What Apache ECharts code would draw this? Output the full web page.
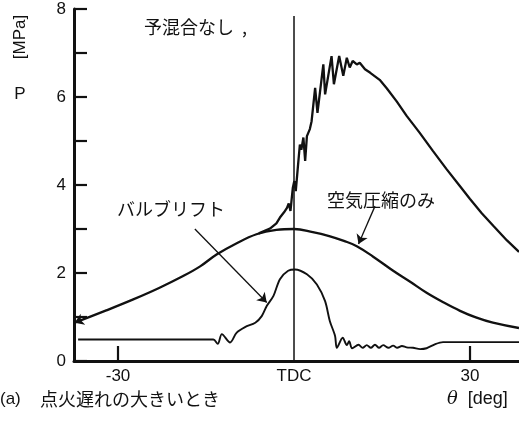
<!DOCTYPE html>
<html>
<head>
<meta charset="utf-8">
<style>
html,body{margin:0;padding:0;background:#fff;}
#chart{width:519px;height:421px;}
</style>
<script src="https://cdn.jsdelivr.net/npm/echarts@6/dist/echarts.min.js"></script>
</head>
<body>
<div id="chart"></div>
<script>
// ---- data (theta in deg, P in MPa) ----
var combTheta = [-6.0, -4.1, -3.0, -2.4, -1.7, -1.2, -0.9, -0.6, -0.2, 0.05, 0.3, 0.75, 1.0, 1.25, 1.6, 1.9, 2.2, 2.7, 3.0, 3.6, 4.0, 5.0, 5.3, 6.4, 6.8, 7.7, 8.4, 9.0, 9.5, 10.0, 10.7, 11.2, 12.1, 13.0, 14.6, 15.8, 17.5, 19.2, 21.4, 23.7, 26.0, 28.3, 30.0, 32.0, 34.0, 36.3, 38.35];
var combP     = [2.90, 3.01, 3.13, 3.26, 3.38, 3.48, 3.58, 3.41, 3.94, 4.09, 3.86, 4.55, 4.92, 4.80, 5.08, 4.55, 5.11, 5.27, 5.45, 6.21, 5.64, 6.74, 6.06, 6.93, 6.29, 6.93, 6.48, 6.89, 6.67, 6.82, 6.74, 6.78, 6.63, 6.55, 6.39, 6.20, 5.90, 5.57, 5.19, 4.77, 4.36, 3.97, 3.68, 3.36, 3.07, 2.74, 2.48];

var compTheta = [-37.4, -32.0, -27.4, -23.0, -18.9, -16.0, -13.2, -10.0, -6.4, -3.0, 0.0, 3.2, 6.0, 8.5, 10.7, 13.5, 16.9, 19.8, 22.6, 25.5, 28.3, 31.0, 33.9, 38.35];
var compP     = [0.87, 1.15, 1.40, 1.66, 1.93, 2.15, 2.42, 2.66, 2.88, 2.98, 3.00, 2.93, 2.84, 2.73, 2.61, 2.37, 2.05, 1.80, 1.55, 1.33, 1.14, 0.99, 0.87, 0.75];

var valveTheta = [-36.8, -13.75, -13.0, -12.3, -10.9, -9.8, -8.35, -6.6, -5.5, -4.65, -3.5, -2.4, -1.0, 0.17, 2.2, 3.9, 5.3, 6.1, 7.0, 7.3, 8.3, 9.0, 9.4, 9.9, 11.0, 11.7, 12.4, 13.1, 13.8, 14.5, 15.2, 16.1, 16.9, 17.6, 18.4, 19.2, 20.3, 21.5, 22.6, 24.0, 25.4, 38.35];
var valveP     = [0.49, 0.49, 0.39, 0.61, 0.42, 0.64, 0.77, 0.87, 1.02, 1.25, 1.48, 1.86, 2.05, 2.08, 1.97, 1.74, 1.36, 0.91, 0.57, 0.30, 0.53, 0.36, 0.45, 0.29, 0.37, 0.30, 0.36, 0.30, 0.37, 0.30, 0.36, 0.30, 0.35, 0.30, 0.34, 0.31, 0.30, 0.27, 0.29, 0.38, 0.43, 0.43];

var tdcLine = [[0, 0], [0, 7.84]];
var xTickValues = [-30, 0, 30];
var xTickMarks = [-30, 30];
var yMin = 0, yMax = 8, yStep = 1;
var xMin = -37.5, xMax = 38.35;

function pairs(xs, ys) { return xs.map(function (x, i) { return [x, ys[i]]; }); }

var INK = '#111';
var numFont = '"Liberation Sans", Arial, sans-serif';
var jpFont = '"Noto Sans CJK JP", sans-serif';

var chart = echarts.init(document.getElementById('chart'));
chart.setOption({
  animation: false,
  backgroundColor: '#fff',
  grid: {left: 74, right: 0, top: 9, bottom: 60},
  xAxis: {
    type: 'value', min: xMin, max: xMax,
    axisLine: {show: true, onZero: false, lineStyle: {color: INK, width: 3}},
    axisTick: {show: false},
    axisLabel: {show: true, customValues: xTickValues, margin: 7, color: INK, fontSize: 17, fontFamily: numFont,
      formatter: function (v) { return v === 0 ? 'TDC' : String(v); }},
    splitLine: {show: false}
  },
  yAxis: {
    type: 'value', min: yMin, max: yMax, interval: yStep,
    axisLine: {show: true, onZero: false, lineStyle: {color: INK, width: 3}},
    axisTick: {show: true, inside: true, length: 13, lineStyle: {color: INK, width: 2.2}},
    axisLabel: {show: true, margin: 8, color: INK, fontSize: 17, fontFamily: numFont,
      formatter: function (v) { return (v % 2 === 0) ? String(v) : ''; }},
    splitLine: {show: false}
  },
  series: [
    {
      type: 'custom', clip: false,
      data: xTickMarks.map(function (v) { return [v, yMin]; }),
      renderItem: function (params, api) {
        var p = api.coord([api.value(0), api.value(1)]);
        return {type: 'line', shape: {x1: p[0], y1: p[1], x2: p[0], y2: p[1] - 15}, style: {stroke: INK, lineWidth: 2.2}};
      }
    },
    {
      name: 'TDC', type: 'line', data: tdcLine, symbol: 'none',
      lineStyle: {color: INK, width: 1.5}, silent: true
    },
    {
      name: '空気圧縮のみ', type: 'line', data: pairs(compTheta, compP), symbol: 'none', smooth: 0.4,
      lineStyle: {color: INK, width: 2.3}, silent: true,
      markLine: {
        silent: true, animation: false, symbol: ['none', 'arrow'], symbolSize: 9,
        label: {show: false}, lineStyle: {color: INK, width: 1.3, type: 'solid'},
        data: [
          [{coord: [13.8, 3.52]}, {coord: [11.0, 2.66]}],
          [{coord: [-36.3, 0.93]}, {coord: [-37.4, 0.87]}]
        ]
      }
    },
    {
      name: '燃焼', type: 'line', data: pairs(combTheta, combP), symbol: 'none', smooth: false,
      lineStyle: {color: INK, width: 2.3}, silent: true
    },
    {
      name: 'バルブリフト', type: 'line', data: pairs(valveTheta, valveP), symbol: 'none', smooth: 0.3,
      lineStyle: {color: INK, width: 1.9}, silent: true,
      markLine: {
        silent: true, animation: false, symbol: ['none', 'arrow'], symbolSize: 9,
        label: {show: false}, lineStyle: {color: INK, width: 1.3, type: 'solid'},
        data: [
          [{coord: [-16.9, 3.0]}, {coord: [-4.65, 1.33]}]
        ]
      }
    }
  ],
  graphic: [
    {type: 'text', x: 20, y: 37, rotation: Math.PI / 2, style: {text: '[MPa]', fill: INK, font: '17px ' + numFont, textAlign: 'center', textVerticalAlign: 'middle'}},
    {type: 'text', x: 20, y: 94, style: {text: 'P', fill: INK, font: '17px ' + numFont, textAlign: 'center', textVerticalAlign: 'middle'}},
    {type: 'text', x: 144, y: 27, style: {text: '予混合なし  ,', fill: INK, font: '18px ' + jpFont, textAlign: 'left', textVerticalAlign: 'middle'}},
    {type: 'text', x: 117, y: 209, style: {text: 'バルブリフト', fill: INK, font: '18px ' + jpFont, textAlign: 'left', textVerticalAlign: 'middle'}},
    {type: 'text', x: 327, y: 200, style: {text: '空気圧縮のみ', fill: INK, font: '18px ' + jpFont, textAlign: 'left', textVerticalAlign: 'middle'}},
    {type: 'text', x: 0, y: 399, style: {text: '(a)', fill: INK, font: '17px ' + numFont, textAlign: 'left', textVerticalAlign: 'middle'}},
    {type: 'text', x: 40, y: 399, style: {text: '点火遅れの大きいとき', fill: INK, font: '18px ' + jpFont, textAlign: 'left', textVerticalAlign: 'middle'}},
    {type: 'text', x: 447, y: 399, style: {
      text: '{t|θ}{u|  [deg]}', textAlign: 'left', textVerticalAlign: 'middle',
      rich: {
        t: {fill: INK, font: 'italic 18px "DejaVu Serif", serif'},
        u: {fill: INK, font: '18px ' + numFont}
      }
    }}
  ]
});
</script>
</body>
</html>
